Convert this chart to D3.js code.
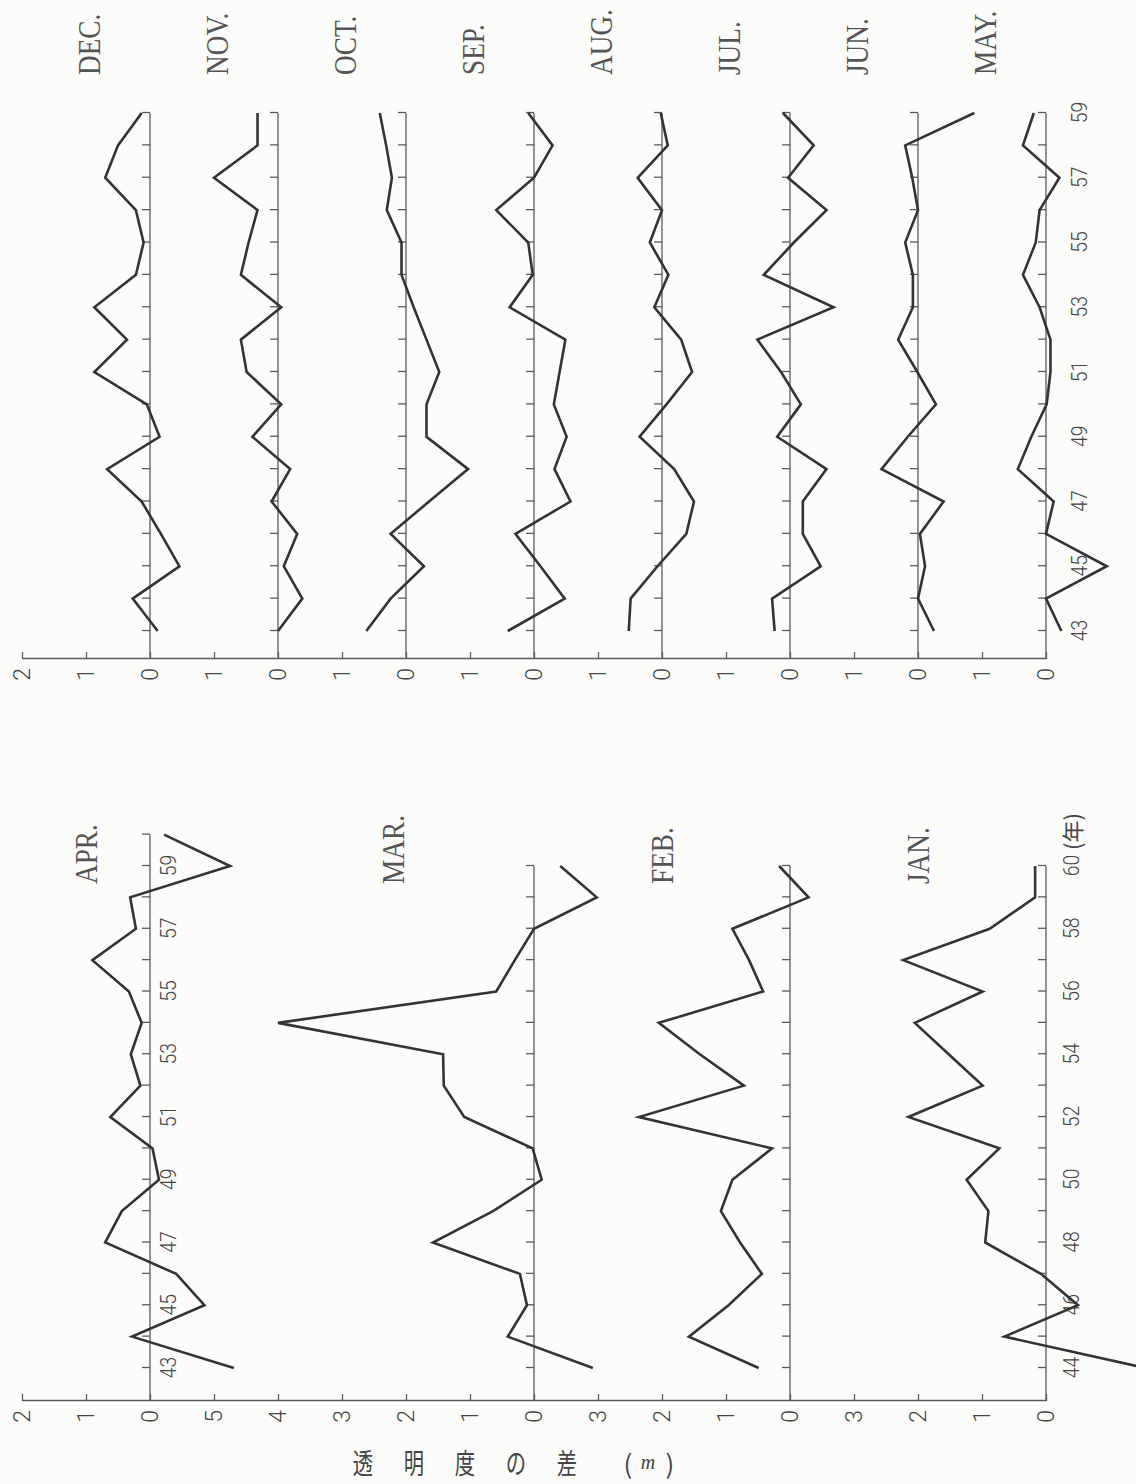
<!DOCTYPE html>
<html>
<head>
<meta charset="utf-8">
<script src="https://cdn.jsdelivr.net/npm/d3@7"></script>
<style>
  html, body { margin: 0; padding: 0; background: #fcfcfa; }
  svg { display: block; }
</style>
</head>
<body>
<svg id="chart" width="1136" height="1484"></svg>
<script>
// --- data: difference in transparency (m), by month and year ---
const yearsLate = d3.range(43, 60);   // MAY .. DEC : 43..59
const yearsEarly = d3.range(44, 61);  // JAN .. MAR : 44..60
const yearsApr = d3.range(43, 61);    // APR        : 43..60

const decValues = [-0.12, 0.27, -0.46, -0.17, 0.13, 0.67, -0.15, 0.05, 0.87, 0.36, 0.87, 0.22, 0.10, 0.22, 0.70, 0.50, 0.13];
const novValues = [0.00, -0.38, -0.09, -0.30, 0.10, -0.19, 0.40, -0.05, 0.49, 0.58, -0.05, 0.58, 0.46, 0.32, 1.00, 0.32, 0.32];
const octValues = [0.62, 0.24, -0.28, 0.24, -0.36, -0.97, -0.32, -0.32, -0.52, -0.32, -0.12, 0.07, 0.07, 0.30, 0.22, 0.31, 0.41];
const sepValues = [0.41, -0.48, -0.10, 0.29, -0.57, -0.32, -0.51, -0.31, -0.40, -0.49, 0.38, 0.02, 0.09, 0.59, 0.00, -0.29, 0.09];
const augValues = [0.52, 0.49, 0.07, -0.38, -0.50, -0.19, 0.35, -0.07, -0.47, -0.30, 0.12, -0.10, 0.19, 0.00, 0.38, -0.09, 0.02];
const julValues = [0.24, 0.28, -0.48, -0.20, -0.20, -0.57, 0.20, -0.17, 0.14, 0.51, -0.68, 0.41, -0.06, -0.57, 0.03, -0.37, 0.11];
const junValues = [-0.25, 0.00, -0.11, -0.03, -0.40, 0.57, 0.16, -0.28, 0.01, 0.31, 0.08, 0.08, 0.20, 0.00, 0.09, 0.20, -0.88];
const mayValues = [-0.24, 0.00, -0.95, 0.00, -0.12, 0.44, 0.23, -0.01, -0.07, -0.07, 0.10, 0.36, 0.16, 0.10, -0.21, 0.36, 0.19];

const aprValues = [-1.31, 0.28, -0.85, -0.41, 0.70, 0.44, -0.14, -0.04, 0.62, 0.15, 0.30, 0.13, 0.33, 0.90, 0.22, 0.31, -1.25, -0.22];
const marValues = [-0.92, 0.41, 0.11, 0.22, 1.58, 0.64, -0.12, 0.02, 1.09, 1.41, 1.42, 4.00, 0.59, 0.30, 0.00, -0.98, -0.41];
const febValues = [0.49, 1.58, 0.96, 0.44, 0.78, 1.08, 0.90, 0.28, 2.36, 0.72, 1.41, 2.05, 0.42, 0.64, 0.90, -0.29, 0.17];
const janValues = [-1.55, 0.65, -0.50, 0.08, 0.95, 0.90, 1.24, 0.73, 2.15, 0.99, 1.52, 2.05, 0.99, 2.23, 0.88, 0.17, 0.17];

const lateMonths = ['DEC.', 'NOV.', 'OCT.', 'SEP.', 'AUG.', 'JUL.', 'JUN.', 'MAY.'];
const earlyMonths = ['APR.', 'MAR.', 'FEB.', 'JAN.'];
const titleChars = ['透', '明', '度', 'の', '差'];

// --- layout (drawn in the page's own orientation, then turned a quarter left) ---
const W = 1484, H = 1136;
const ink = '#333', axisInk = '#5a5a5a';
const numFont = 'Roboto, "Liberation Sans", sans-serif';
const serifFont = '"Liberation Serif", "DejaVu Serif", serif';
const cjkFont = '"Noto Sans CJK JP", "Noto Sans CJK SC", sans-serif';

// one value grid shared by both panels: 16 units from top label to bottom zero
const yUnit = d3.scaleLinear().domain([0, 16]).range([22, 1046]);

const xLate = d3.scaleLinear().domain([43, 59]).range([853, 1371]);
const xEarly = d3.scaleLinear().domain([44, 60]).range([116, 618]);
// APR is set one year earlier on the same ticks as JAN..MAR
const xApr = d3.scaleLinear().domain([43, 59]).range([116, 618]);

const lateStrips = [
  { name: lateMonths[0], values: decValues, zero: 2 },
  { name: lateMonths[1], values: novValues, zero: 4 },
  { name: lateMonths[2], values: octValues, zero: 6 },
  { name: lateMonths[3], values: sepValues, zero: 8 },
  { name: lateMonths[4], values: augValues, zero: 10 },
  { name: lateMonths[5], values: julValues, zero: 12 },
  { name: lateMonths[6], values: junValues, zero: 14 },
  { name: lateMonths[7], values: mayValues, zero: 16 }
].map(s => Object.assign(s, { years: yearsLate, x: xLate, lift: 0.95 }));

const earlyStrips = [
  { name: earlyMonths[0], values: aprValues, zero: 2, years: yearsApr, x: xApr, lift: 1.0 },
  { name: earlyMonths[1], values: marValues, zero: 8, years: yearsEarly, x: xEarly, lift: 2.2 },
  { name: earlyMonths[2], values: febValues, zero: 12, years: yearsEarly, x: xEarly, lift: 2.0 },
  { name: earlyMonths[3], values: janValues, zero: 16, years: yearsEarly, x: xEarly, lift: 2.0 }
];

const panels = [
  { strips: lateStrips, axisX: 825, labelX: 1409, yearPad: 25 },
  { strips: earlyStrips, axisX: 83, labelX: 600, yearPad: 17 }
];

const svg = d3.select('#chart');
svg.append('rect').attr('width', 1136).attr('height', 1484).attr('fill', '#fcfcfa');

const root = svg.append('g').attr('transform', `translate(0,${W}) rotate(-90)`);

panels.forEach(panel => {
  const g = root.append('g');

  // value axis: each strip is labelled from its zero up to where the strip above sits
  const tickText = d3.range(17).map(u => {
    const s = panel.strips.find(st => st.zero >= u);
    return String(s.zero - u);
  });
  g.append('g')
    .attr('transform', `translate(${panel.axisX},0)`)
    .call(d3.axisLeft(yUnit).tickValues(d3.range(17)).tickFormat(u => tickText[u])
      .tickSizeInner(-7).tickSizeOuter(0).tickPadding(9))
    .call(a => a.select('.domain').attr('stroke', axisInk).attr('stroke-width', 1.3))
    .call(a => a.selectAll('.tick line').attr('stroke', axisInk).attr('stroke-width', 1.3))
    .call(a => a.selectAll('.tick text')
      .attr('fill', '#444').style('font-family', numFont).style('font-weight', 300).style('font-size', '23px'));

  panel.strips.forEach((s, si) => {
    const y0 = yUnit(s.zero);
    const last = s.years[s.years.length - 1];

    // zero line
    g.append('line')
      .attr('x1', panel.axisX).attr('x2', s.x(last))
      .attr('y1', y0).attr('y2', y0)
      .attr('stroke', axisInk).attr('stroke-width', 1.3);

    // year ticks on the zero line, labelled on the bottom strip and on APR
    const isBottom = si === panel.strips.length - 1;
    const isApr = s.name === 'APR.';
    const labelled = isBottom || isApr;
    const showYear = d => (panel.strips === lateStrips || isApr) ? d % 2 === 1 : d % 2 === 0;

    g.append('g')
      .attr('transform', `translate(0,${y0})`)
      .call(d3.axisBottom(s.x).tickValues(s.years)
        .tickFormat(d => (labelled && showYear(d) && d <= (isApr ? 59 : 60)) ? String(d) : '')
        .tickSizeInner(-8).tickSizeOuter(0).tickPadding(isApr ? 10 : panel.yearPad))
      .call(a => a.select('.domain').remove())
      .call(a => a.selectAll('.tick line').attr('stroke', axisInk).attr('stroke-width', 1.3))
      .call(a => a.selectAll('.tick text')
        .attr('fill', '#444').attr('transform', 'scale(0.88,1)')
        .style('font-family', numFont).style('font-weight', 300).style('font-size', '22px'));

    // the series
    const line = d3.line()
      .x((d, i) => s.x(s.years[i]))
      .y(d => yUnit(s.zero - d));
    g.append('path')
      .datum(s.values)
      .attr('d', line)
      .attr('fill', 'none')
      .attr('stroke', ink)
      .attr('stroke-width', 2.6)
      .attr('stroke-linejoin', 'miter');

    // month name
    g.append('text')
      .attr('transform', `translate(${panel.labelX},${yUnit(s.zero - s.lift)}) scale(0.88,1)`)
      .attr('dominant-baseline', 'central')
      .attr('fill', '#555')
      .style('font-family', serifFont)
      .style('font-size', '31px')
      .text(s.name);
  });
});

// year unit after the last early tick
root.append('text')
  .attr('x', xEarly(60) + 16).attr('y', yUnit(16) + 25)
  .attr('dominant-baseline', 'central')
  .attr('fill', '#444')
  .style('font-family', cjkFont).style('font-size', '22px')
  .text('(年)');

// axis title, set reading downwards
const title = root.append('g').attr('fill', '#444').style('font-family', cjkFont);
titleChars.forEach((c, i) => {
  title.append('text')
    .attr('transform', `translate(22,${363 + i * 51}) rotate(90) scale(0.78,1.08)`)
    .attr('text-anchor', 'middle').attr('dominant-baseline', 'central')
    .style('font-size', '26px')
    .text(c);
});
[['(', 628], ['m', 648], [')', 670]].forEach(([c, y]) => {
  title.append('text')
    .attr('transform', `translate(22,${y}) rotate(90)`)
    .attr('text-anchor', 'middle').attr('dominant-baseline', 'central')
    .style('font-size', c === 'm' ? '20px' : '26px')
    .style('font-style', c === 'm' ? 'italic' : 'normal')
    .style('font-family', c === 'm' ? serifFont : cjkFont)
    .text(c);
});
</script>
</body>
</html>
